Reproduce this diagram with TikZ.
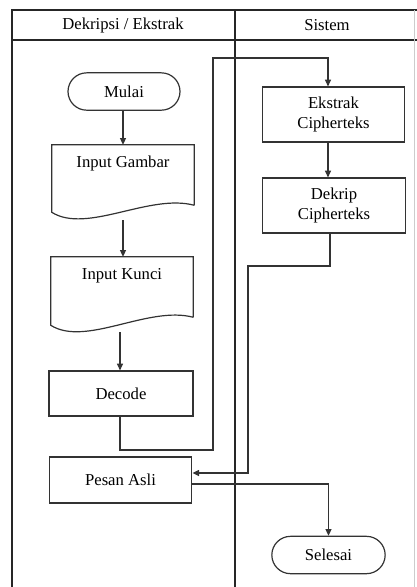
\documentclass[tikz,border=0pt]{standalone}
\usepackage{fontspec}
\setmainfont{Liberation Serif}
\usetikzlibrary{arrows.meta,calc}

\tikzset{
  line/.style={draw=black!80, line width=0.9pt},
  frame/.style={draw=black!85, line width=1.2pt},
  arrow/.style={line, -{Triangle[length=5pt,width=4.5pt]}},
  txt/.style={font=\fontsize{12.5}{14}\selectfont, inner sep=0pt, align=center},
  procbox/.style={line, rectangle, txt, minimum width=107pt},
  docbox/.style={rectangle, minimum width=106.5pt, inner sep=0pt},
  termbox/.style={line, rectangle, rounded corners=14pt, txt, minimum height=28pt},
}

\begin{document}
\begin{tikzpicture}[x=0.75pt,y=-0.75pt]
  \useasboundingbox (0,0) rectangle (417,587);

  % swimlane frame
  \draw[frame] (12,587) -- (12,10) -- (417,10);
  \draw[frame] (12,40) -- (417,40);
  \draw[frame] (235,10) -- (235,587);
  \draw[draw=black!20, line width=0.6pt] (414,10) -- (414,587);
  \node[txt] (h1) at (123,25) {Dekripsi / Ekstrak};
  \node[txt] (h2) at (327,25) {Sistem};

  % left lane
  \node[termbox, minimum width=84pt] (mulai) at (124,91.5) {Mulai};

  \node[docbox, minimum height=56.25pt] (gambar) at (123,182.5) {};
  \draw[line] ($(gambar.south east)+(0,-15)$) -- (gambar.north east)
    -- (gambar.north west) -- ($(gambar.south west)+(0,-8)$)
    .. controls +(35,22) and +(-45,-12) .. ($(gambar.south east)+(0,-15)$);
  \node[txt] (gambart) at (123,163) {Input Gambar};

  \node[docbox, minimum height=56.25pt] (kunci) at (122,294.5) {};
  \draw[line] ($(kunci.south east)+(0,-15)$) -- (kunci.north east)
    -- (kunci.north west) -- ($(kunci.south west)+(0,-7)$)
    .. controls +(35,22) and +(-45,-12) .. ($(kunci.south east)+(0,-15)$);
  \node[txt] (kuncit) at (122,276) {Input Kunci};

  \node[procbox, minimum width=108pt, minimum height=33.75pt] (decode) at (121,393.5) {Decode};
  \node[procbox, minimum height=34.5pt] (pesan) at (120.5,480) {Pesan Asli};

  % right lane
  \node[procbox, minimum height=41.25pt] (ekstrak) at (333.5,114.5) {Ekstrak\\[1pt]Cipherteks};
  \node[procbox, minimum height=41.25pt] (dekrip) at (334,205.5) {Dekrip\\[1pt]Cipherteks};
  \node[termbox, minimum width=85pt] (selesai) at (328.5,555) {Selesai};

  % routing points
  \coordinate (cx) at (328,0);
  \coordinate (kx) at (120,0);
  \coordinate (r1) at (213,450);
  \coordinate (r2) at (213,58);
  \coordinate (r3) at (330,266);
  \coordinate (r4) at (248,266);

  % connectors
  \draw[arrow] (mulai.south -| gambar.north) -- (gambar.north);
  \draw[arrow] (gambar.south) -- (gambar.south |- kunci.north);
  \draw[arrow] (kunci.south -| kx) -- (decode.north -| kx);
  \draw[arrow] (decode.south -| kx) |- (r1) -- (r2) -| (ekstrak.north -| cx);
  \draw[arrow] (ekstrak.south -| cx) -- (dekrip.north -| cx);
  \draw[arrow] (dekrip.south -| r3) -- (r3) -- (r4) |- ([yshift=5.25pt]pesan.east);
  \draw[arrow] ([yshift=-3pt]pesan.east) -| (selesai.north);
\end{tikzpicture}
\end{document}
